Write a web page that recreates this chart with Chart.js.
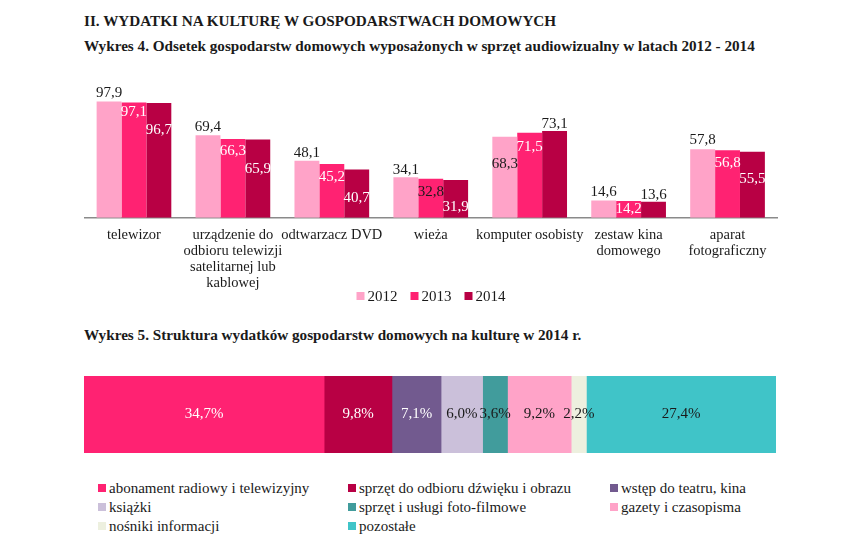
<!DOCTYPE html>
<html><head><meta charset="utf-8">
<script src="https://cdn.jsdelivr.net/npm/chart.js@4.4.1/dist/chart.umd.min.js"></script>
<style>
html,body{margin:0;padding:0;background:#fff;}
body{width:843px;height:546px;position:relative;overflow:hidden;font-family:"Liberation Serif","Times New Roman",serif;color:#1a1a1a;}
.t{position:absolute;left:84px;font-weight:bold;white-space:nowrap;font-size:15.2px;height:20px;line-height:20px;}
#c1wrap{position:absolute;left:0;top:60px;width:843px;height:261px;}
#c2wrap{position:absolute;left:0;top:360px;width:843px;height:110px;}
.li{position:absolute;display:flex;align-items:center;height:20px;font-size:15px;white-space:nowrap;}
.li .box{display:inline-block;width:8px;height:8px;margin-right:3px;}
#leg1{position:absolute;top:286px;left:431px;transform:translateX(-50%);display:flex;height:20px;}
#leg1 .li{position:static;margin-right:13px;}
#leg1 .li:last-child{margin-right:0;}
</style></head><body>
<div class="t" style="top:11px">II. WYDATKI NA KULTURĘ W GOSPODARSTWACH DOMOWYCH</div>
<div class="t" style="top:36px">Wykres 4. Odsetek gospodarstw domowych wyposażonych w sprzęt audiowizualny w latach 2012 - 2014</div>
<div class="t" style="top:325px">Wykres 5. Struktura wydatków gospodarstw domowych na kulturę w 2014 r.</div>
<div id="c1wrap"><canvas id="c1"></canvas></div>
<div id="leg1"></div>
<div id="c2wrap"><canvas id="c2"></canvas></div>
<div id="leg2"></div>
<script>
// ---- Data: Wykres 4 ----
const categories = [
  ["telewizor"],
  ["urządzenie do","odbioru telewizji","satelitarnej lub","kablowej"],
  ["odtwarzacz DVD"],
  ["wieża"],
  ["komputer osobisty"],
  ["zestaw kina","domowego"],
  ["aparat","fotograficzny"]
];
const years = ["2012","2013","2014"];
const values2012 = [97.9, 69.4, 48.1, 34.1, 68.3, 14.6, 57.8];
const values2013 = [97.1, 66.3, 45.2, 32.8, 71.5, 14.2, 56.8];
const values2014 = [96.7, 65.9, 40.7, 31.9, 73.1, 13.6, 55.5];

// ---- Data: Wykres 5 ----
const expenseCategories = [
  "abonament radiowy i telewizyjny",
  "sprzęt do odbioru dźwięku i obrazu",
  "wstęp do teatru, kina",
  "książki",
  "sprzęt i usługi foto-filmowe",
  "gazety i czasopisma",
  "nośniki informacji",
  "pozostałe"
];
const expenseShares = [34.7, 9.8, 7.1, 6.0, 3.6, 9.2, 2.2, 27.4];

// ---- Styles ----
const FONT = '"Liberation Serif","Times New Roman",serif';
const DARK = '#1a1a1a';
const yearColors = ['#FFA3C8', '#FF2272', '#B80044'];
const expenseColors = ['#FF2272','#B80044','#725A8F','#CBC0DA','#419C9C','#FFA3C8','#EDF0DF','#40C4C8'];
const expenseLabelColors = ['#fff','#fff','#fff',DARK,DARK,DARK,DARK,DARK];

// label placement (offset of label centre from bar top, px) and colour ('w' white / 'd' dark)
const barLabelOpts = {
  dy: [
    [-8, -8, -8, -7, 27, -8, -9],
    [10, 12, 13, 13, 14, 8, 13],
    [27, 30, 29, 27, -7, -7, 27]
  ],
  col: [
    ['d','d','d','d','d','d','d'],
    ['w','w','w','d','w','w','w'],
    ['w','w','w','w','d','d','w']
  ]
};

const fmt = v => v.toFixed(1).replace('.', ',');

const barLabelPlugin = {
  id: 'barLabels',
  afterDatasetsDraw(chart) {
    const ctx = chart.ctx; ctx.save();
    ctx.font = '15px ' + FONT; ctx.textAlign = 'center'; ctx.textBaseline = 'middle';
    chart.data.datasets.forEach((ds, di) => {
      chart.getDatasetMeta(di).data.forEach((el, i) => {
        ctx.fillStyle = barLabelOpts.col[di][i] === 'w' ? '#fff' : DARK;
        ctx.fillText(fmt(ds.data[i]), el.x, el.y + barLabelOpts.dy[di][i]);
      });
    });
    ctx.restore();
  }
};

const stackLabelPlugin = {
  id: 'stackLabels',
  afterDatasetsDraw(chart) {
    const ctx = chart.ctx; ctx.save();
    ctx.font = '15px ' + FONT; ctx.textAlign = 'center'; ctx.textBaseline = 'middle';
    chart.data.datasets.forEach((ds, di) => {
      chart.getDatasetMeta(di).data.forEach((el, i) => {
        ctx.fillStyle = expenseLabelColors[di];
        ctx.fillText(fmt(ds.data[i]) + '%', (el.x + el.base) / 2, el.y);
      });
    });
    ctx.restore();
  }
};

const seriesValues = [values2012, values2013, values2014];

new Chart(document.getElementById('c1'), {
  type: 'bar',
  data: {
    labels: categories,
    datasets: years.map((y, i) => ({
      label: y, data: seriesValues[i], backgroundColor: yearColors[i],
      categoryPercentage: 0.755, barPercentage: 1.0
    }))
  },
  options: {
    responsive: true, maintainAspectRatio: false, animation: false,
    layout: { padding: { left: 84.5, right: 66, top: 39, bottom: 20 } },
    plugins: { legend: { display: false }, tooltip: { enabled: false } },
    scales: {
      x: {
        grid: { display: false, drawTicks: false },
        border: { display: true, color: '#8a8a8a', width: 1.5 },
        ticks: { color: DARK, padding: 10, maxRotation: 0, autoSkip: false,
                 font: { family: FONT, size: 14.5, lineHeight: 1.09 } }
      },
      y: { display: false, min: 0, max: 100 }
    }
  },
  plugins: [barLabelPlugin]
});

new Chart(document.getElementById('c2'), {
  type: 'bar',
  data: {
    labels: ['2014'],
    datasets: expenseCategories.map((c, i) => ({
      label: c, data: [expenseShares[i]], backgroundColor: expenseColors[i],
      categoryPercentage: 1.0, barPercentage: 1.0
    }))
  },
  options: {
    indexAxis: 'y',
    responsive: true, maintainAspectRatio: false, animation: false,
    layout: { padding: { left: 84, right: 67, top: 16, bottom: 17 } },
    plugins: { legend: { display: false }, tooltip: { enabled: false } },
    scales: {
      x: { display: false, stacked: true, min: 0, max: 100 },
      y: { display: false, stacked: true }
    }
  },
  plugins: [stackLabelPlugin]
});

// HTML legends built from the same arrays
const leg1 = document.getElementById('leg1');
years.forEach((y, i) => {
  const d = document.createElement('div'); d.className = 'li';
  d.innerHTML = '<span class="box" style="background:' + yearColors[i] + '"></span>' + y;
  leg1.appendChild(d);
});
const leg2 = document.getElementById('leg2');
const colX = [98, 348, 610];
expenseCategories.forEach((c, i) => {
  const d = document.createElement('div'); d.className = 'li';
  d.style.left = colX[i % 3] + 'px';
  d.style.top = (478 + Math.floor(i / 3) * 19) + 'px';
  d.innerHTML = '<span class="box" style="background:' + expenseColors[i] + '"></span>' + c;
  leg2.appendChild(d);
});
</script>
</body></html>
